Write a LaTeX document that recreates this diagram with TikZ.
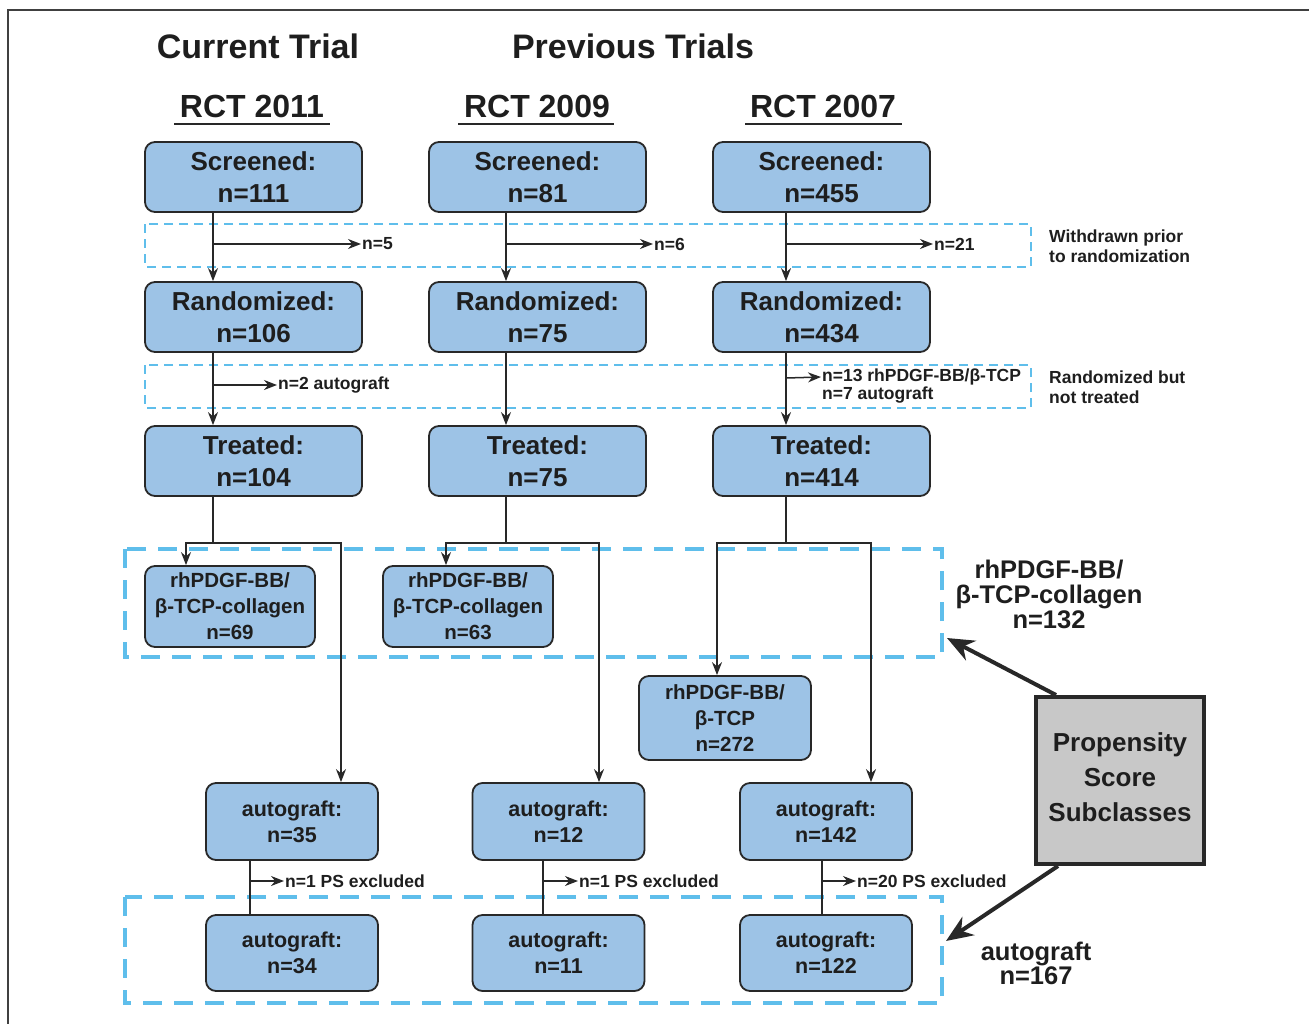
\documentclass[tikz,border=0pt]{standalone}
\usepackage{fontspec}
\setmainfont{Liberation Sans}
\usetikzlibrary{arrows.meta}
\definecolor{boxfill}{RGB}{157,195,230}
\definecolor{boxline}{RGB}{40,40,40}
\definecolor{dashblue}{RGB}{95,190,235}
\definecolor{txt}{RGB}{30,30,30}
\definecolor{psfill}{RGB}{200,200,200}
\newcommand{\fs}[2]{\fontsize{#1}{#2}\selectfont}
\tikzset{
  every node/.style={text=txt, font=\bfseries},
  bigbox/.style={rectangle, rounded corners=10pt, draw=boxline, fill=boxfill, line width=1.8pt,
    minimum width=217pt, minimum height=70pt, inner sep=0pt, align=center, font=\bfseries\fs{26}{32}},
  rhbox/.style={rectangle, rounded corners=10pt, draw=boxline, fill=boxfill, line width=1.8pt,
    minimum width=170pt, inner sep=0pt, align=center, font=\bfseries\fs{20.5}{26}},
  agbox/.style={rectangle, rounded corners=10pt, draw=boxline, fill=boxfill, line width=1.8pt,
    minimum width=172pt, minimum height=77pt, inner sep=0pt, align=center, font=\bfseries\fs{21.5}{26}},
  hdr/.style={font=\bfseries\fs{34}{40}, inner sep=0pt},
  rct/.style={font=\bfseries\fs{32}{38}, inner sep=0pt},
  lbl/.style={font=\bfseries\fs{17.5}{18}, inner sep=1pt, anchor=west},
  plbl/.style={font=\bfseries\fs{17.5}{20}, inner sep=1pt, anchor=west},
  side/.style={font=\bfseries\fs{17.5}{20}, inner sep=0pt, align=left, anchor=west},
  grp/.style={font=\bfseries\fs{25.5}{25}, inner sep=0pt, align=center},
  conn/.style={draw=boxline, line width=1.5pt},
  arr/.style={conn, -{Stealth[length=13pt,width=10pt]}},
  dsmall/.style={draw=dashblue, line width=2pt, dash pattern=on 9pt off 6pt},
  dbig/.style={draw=dashblue, line width=4pt, dash pattern=on 19pt off 12pt},
  bigarr/.style={draw=boxline, line width=4pt, -{Stealth[length=27pt,width=22pt]}},
}
\begin{document}
\begin{tikzpicture}[x=1pt,y=-1pt]
\useasboundingbox (0,0) rectangle (1309,1023);
% frame
\draw[line width=1.5pt, black!75] (8,1030) -- (8,10) -- (1320,10);

% headers
\node[hdr] (cur) at (258,46) {Current Trial};
\node[hdr] (prev) at (633,46) {Previous Trials};
\node[rct] (y11) at (252,106) {RCT 2011};
\node[rct] (y09) at (537,106) {RCT 2009};
\node[rct] (y07) at (823,106) {RCT 2007};
\draw[line width=2pt, boxline] (174,124) -- (330,124);
\draw[line width=2pt, boxline] (458,124) -- (614,124);
\draw[line width=2pt, boxline] (745,124) -- (902,124);

% dashed bands
\draw[dsmall] (145,224) rectangle (1031,267);
\draw[dsmall] (145,365) rectangle (1031,408);
\draw[dbig] (125,549) rectangle (942,657);
\draw[dbig] (125,897) rectangle (942,1003);

% main boxes
\node[bigbox] (s1) at (253.5,177) {Screened:\\n=111};
\node[bigbox] (s2) at (537.5,177) {Screened:\\n=81};
\node[bigbox] (s3) at (821.5,177) {Screened:\\n=455};
\node[bigbox] (r1) at (253.5,317) {Randomized:\\n=106};
\node[bigbox] (r2) at (537.5,317) {Randomized:\\n=75};
\node[bigbox] (r3) at (821.5,317) {Randomized:\\n=434};
\node[bigbox] (t1) at (253.5,461) {Treated:\\n=104};
\node[bigbox] (t2) at (537.5,461) {Treated:\\n=75};
\node[bigbox] (t3) at (821.5,461) {Treated:\\n=414};

% column coordinates
\coordinate (c1) at (213,0);
\coordinate (c2) at (506,0);
\coordinate (c3) at (786,0);

% screened -> randomized
\draw[arr] (s1.south -| c1) -- (r1.north -| c1);
\draw[arr] (s2.south -| c2) -- (r2.north -| c2);
\draw[arr] (s3.south -| c3) -- (r3.north -| c3);
\node[lbl] (w1) at (361,244) {n=5};
\node[lbl] (w2) at (653,244) {n=6};
\node[lbl] (w3) at (933,244) {n=21};
\coordinate (w1s) at (213,244);
\coordinate (w2s) at (506,244);
\coordinate (w3s) at (786,244);
\draw[arr] (w1s) -- (w1.west);
\draw[arr] (w2s) -- (w2.west);
\draw[arr] (w3s) -- (w3.west);
\node[side] (wd) at (1049,246) {Withdrawn prior\\to randomization};

% randomized -> treated
\draw[arr] (r1.south -| c1) -- (t1.north -| c1);
\draw[arr] (r2.south -| c2) -- (t2.north -| c2);
\draw[arr] (r3.south -| c3) -- (t3.north -| c3);
\node[lbl] (x1) at (277,385) {n=2 autograft};
\coordinate (x1s) at (213,385);
\draw[arr] (x1s) -- (x1.west);
\node[lbl] (x3a) at (821,377) {n=13 rhPDGF-BB/β-TCP};
\node[lbl] (x3b) at (821,395) {n=7 autograft};
\coordinate (x3s) at (786,378);
\draw[arr] (x3s) -- (x3a.west);
\node[side] (nt) at (1049,387) {Randomized but\\not treated};

% treatment group boxes
\node[rhbox, minimum height=81pt] (pa) at (230,606.5) {rhPDGF-BB/\\β-TCP-collagen\\n=69};
\node[rhbox, minimum height=81pt] (pb) at (468,606.5) {rhPDGF-BB/\\β-TCP-collagen\\n=63};
\node[rhbox, minimum height=84pt, minimum width=172pt] (pc) at (725,718) {rhPDGF-BB/\\β-TCP\\n=272};
\node[agbox] (a1) at (292,821.5) {autograft:\\n=35};
\node[agbox] (a2) at (558.5,821.5) {autograft:\\n=12};
\node[agbox] (a3) at (826,821.5) {autograft:\\n=142};
\node[agbox, minimum height=76pt] (f1) at (292,953) {autograft:\\n=34};
\node[agbox, minimum height=76pt] (f2) at (558.5,953) {autograft:\\n=11};
\node[agbox, minimum height=76pt] (f3) at (826,953) {autograft:\\n=122};

% splits
\coordinate (sp1) at (213,543); \coordinate (ba1) at (186,543); \coordinate (bb1) at (341,543);
\coordinate (sp2) at (506,543); \coordinate (ba2) at (446,543); \coordinate (bb2) at (599,543);
\coordinate (sp3) at (786,543); \coordinate (ba3) at (717,543); \coordinate (bb3) at (871,543);
\draw[conn] (t1.south -| sp1) -- (sp1);
\draw[conn] (t2.south -| sp2) -- (sp2);
\draw[conn] (t3.south -| sp3) -- (sp3);
\draw[arr] (sp1) -- (ba1) -- (pa.north -| ba1);
\draw[arr] (sp1) -- (bb1) -- (a1.north -| bb1);
\draw[arr] (sp2) -- (ba2) -- (pb.north -| ba2);
\draw[arr] (sp2) -- (bb2) -- (a2.north -| bb2);
\draw[arr] (sp3) -- (ba3) -- (pc.north -| ba3);
\draw[arr] (sp3) -- (bb3) -- (a3.north -| bb3);

% PS exclusion
\coordinate (e1) at (250,0); \coordinate (e2) at (543,0); \coordinate (e3) at (822,0);
\draw[conn] (a1.south -| e1) -- (f1.north -| e1);
\draw[conn] (a2.south -| e2) -- (f2.north -| e2);
\draw[conn] (a3.south -| e3) -- (f3.north -| e3);
\node[plbl] (p1) at (284,881) {n=1 PS excluded};
\node[plbl] (p2) at (578,881) {n=1 PS excluded};
\node[plbl] (p3) at (856,881) {n=20 PS excluded};
\coordinate (p1s) at (250,881); \coordinate (p2s) at (543,881); \coordinate (p3s) at (822,881);
\draw[arr] (p1s) -- (p1.west);
\draw[arr] (p2s) -- (p2.west);
\draw[arr] (p3s) -- (p3.west);

% group labels and propensity box
\node[grp] (g1) at (1049,594) {rhPDGF-BB/\\β-TCP-collagen\\n=132};
\node[grp, font=\bfseries\fs{25.5}{24}] (g2) at (1036,963) {autograft\\n=167};
\node[rectangle, draw=boxline, fill=psfill, line width=4pt, minimum width=168pt, minimum height=167pt,
  inner sep=0pt] (ps) at (1120,780.5) {};
\node[align=center, inner sep=0pt, font=\bfseries\fs{26}{35}] (pst) at (1120,777) {Propensity\\Score\\Subclasses};
\coordinate (tg1) at (947,638);
\coordinate (tg2) at (946,941);
\draw[bigarr] ([xshift=22pt]ps.north west) -- (tg1);
\draw[bigarr] ([xshift=24pt]ps.south west) -- (tg2);
\end{tikzpicture}
\end{document}
